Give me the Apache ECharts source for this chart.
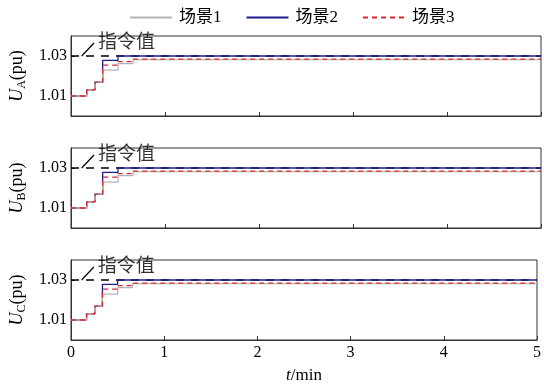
<!DOCTYPE html>
<html><head><meta charset="utf-8">
<script src="https://cdn.jsdelivr.net/npm/echarts@6/dist/echarts.min.js"></script>
<style>html,body{margin:0;padding:0;background:#fff}#c{width:544px;height:385px}</style>
</head><body><div id="c"></div>
<script>
const seriesNames = ['场景1', '场景2', '场景3'];
const phaseNames = ['A', 'B', 'C'];
const times = [0, 0.167, 0.255, 0.337, 0.5, 0.66, 5];
const s1A = [1.01, 1.0131, 1.0169, 1.0229, 1.0262, 1.0282, 1.0282];
const s2A = [1.01, 1.0131, 1.0169, 1.0278, 1.03, 1.03, 1.03];
const s3A = [1.01, 1.0131, 1.0169, 1.0254, 1.0272, 1.0284, 1.0284];
const s1B = [1.01, 1.0131, 1.0169, 1.0229, 1.0262, 1.0282, 1.0282];
const s2B = [1.01, 1.0131, 1.0169, 1.0278, 1.03, 1.03, 1.03];
const s3B = [1.01, 1.0131, 1.0169, 1.0254, 1.0272, 1.0284, 1.0284];
const s1C = [1.01, 1.0131, 1.0169, 1.0229, 1.0262, 1.0282, 1.0282];
const s2C = [1.01, 1.0131, 1.0169, 1.0278, 1.03, 1.03, 1.03];
const s3C = [1.01, 1.0131, 1.0169, 1.0254, 1.0272, 1.0284, 1.0284];
const commandValue = 1.03;
const leaderStart = [0.114, 1.03];
const leaderEnd = [0.245, 1.0365];
const annotationText = '指令值';
const xTicks = [0, 1, 2, 3, 4, 5];
const yTicks = [1.01, 1.03];

const FONT = '"Liberation Serif", "Noto Sans CJK SC", serif';
const colors = ['#b4b4b4', '#1c1c8a', '#e0262c'];
const data = [[s1A, s2A, s3A], [s1B, s2B, s3B], [s1C, s2C, s3C]];
const tops = [36, 148, 260];

const grids = [], xAxes = [], yAxes = [], series = [];
for (let g = 0; g < 3; g++) {
  grids.push({left: 71, right: 3, top: tops[g], height: 80, show: true, borderColor: '#333', borderWidth: 1, containLabel: false});
  xAxes.push({
    type: 'value', gridIndex: g, min: 0, max: 5, interval: 1,
    axisLine: {show: true, lineStyle: {color: '#333', width: 1}},
    axisTick: {show: true, inside: true, length: 4, lineStyle: {color: '#333'}},
    splitLine: {show: false},
    axisLabel: {show: g === 2, color: '#000', fontFamily: FONT, fontSize: 16, margin: 5},
    name: g === 2 ? '{i|t}{n|/min}' : '',
    nameLocation: 'middle', nameGap: 27,
    nameTextStyle: {rich: {i: {fontFamily: FONT, fontSize: 17, fontStyle: 'italic', color: '#000'}, n: {fontFamily: FONT, fontSize: 17, color: '#000'}}}
  });
  yAxes.push({
    type: 'value', gridIndex: g, min: 1.0, max: 1.04,
    axisLine: {show: true, lineStyle: {color: '#333', width: 1}},
    axisTick: {show: true, inside: true, length: 4, customValues: yTicks, lineStyle: {color: '#333'}},
    splitLine: {show: false},
    axisLabel: {customValues: yTicks, color: '#000', fontFamily: FONT, fontSize: 16, margin: 4, formatter: v => v.toFixed(2)},
    name: '{i|U}{s|' + phaseNames[g] + '}{n|(pu)}',
    nameLocation: 'middle', nameRotate: 90, nameGap: 40,
    nameTextStyle: {rich: {
      i: {fontFamily: FONT, fontSize: 18, fontStyle: 'italic', color: '#000'},
      s: {fontFamily: FONT, fontSize: 12, color: '#000', padding: [9, 0, 0, 0]},
      n: {fontFamily: FONT, fontSize: 18, color: '#000'}
    }}
  });
  series.push({
    type: 'line', xAxisIndex: g, yAxisIndex: g, symbol: 'none', silent: true, z: 1,
    data: [[0, commandValue], [5, commandValue]],
    lineStyle: {color: '#000', width: 1.5, type: [8, 7]}
  });
  for (let k = 0; k < 3; k++) {
    series.push({
      name: seriesNames[k], type: 'line', xAxisIndex: g, yAxisIndex: g,
      step: 'end', symbol: 'none', showSymbol: false, z: k === 1 ? 2 : (k === 2 ? 4 : 3),
      data: times.map((t, i) => [t, data[g][k][i]]),
      lineStyle: {color: colors[k], width: 1.3, type: k === 2 ? [5, 4] : 'solid'},
      itemStyle: {color: colors[k]}
    });
  }
  series.push({
    type: 'line', xAxisIndex: g, yAxisIndex: g, symbol: 'none', silent: true, z: 5,
    data: [leaderStart, leaderEnd],
    lineStyle: {color: '#000', width: 1.2}
  });
  series.push({
    type: 'scatter', xAxisIndex: g, yAxisIndex: g, symbolSize: 0, silent: true, z: 5,
    data: [leaderEnd],
    label: {show: true, position: 'right', distance: 4, formatter: annotationText, color: '#000', fontFamily: FONT, fontSize: 19}
  });
}

const chart = echarts.init(document.getElementById('c'), null, {renderer: 'canvas'});
chart.setOption({
  animation: false,
  backgroundColor: '#fff',
  legend: {
    data: seriesNames.map(n => ({name: n})),
    top: 4, left: 124, itemWidth: 42, itemHeight: 10, itemGap: 24,
    itemStyle: {opacity: 0},
    textStyle: {fontFamily: FONT, fontSize: 17, color: '#000', padding: [0, 0, 0, 2]}
  },
  grid: grids, xAxis: xAxes, yAxis: yAxes, series: series
});
</script>
</body></html>
